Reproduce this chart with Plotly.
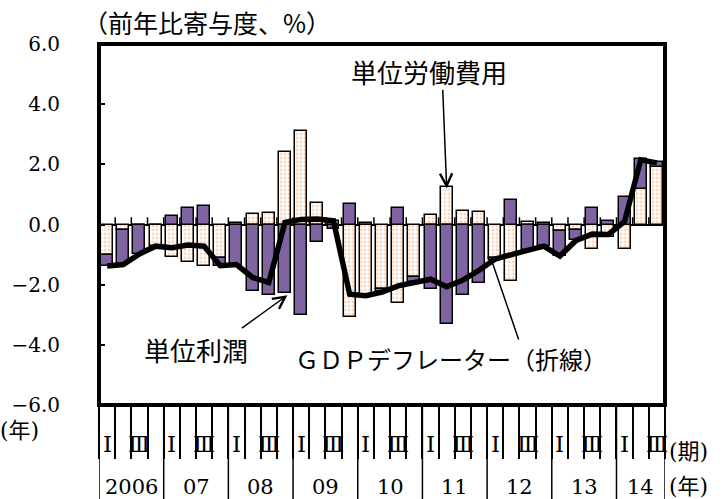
import plotly.graph_objects as go

# 2006 I - 2014 III, quarterly contributions (% y/y)
years = ["2006", "07", "08", "09", "10", "11", "12", "13", "14"]
quarter_marks = ["Ⅰ", "", "Ⅲ", ""]
y_ticks = [6, 4, 2, 0, -2, -4, -6]
y_tick_text = ["6.0", "4.0", "2.0", "0.0", "−2.0", "−4.0", "−6.0"]

unit_labor_cost = [-1.03, -0.17, 0.00, -0.70, -1.09, -1.25, -1.37, -1.12, 0.04, 0.36,
                   0.38, 2.41, 3.11, 0.72, 0.10, -3.06, -2.35, -2.15, -2.60, -1.75,
                   0.31, 1.25, 0.44, 0.42, -1.12, -1.87, 0.07, 0.04, -0.20, -0.18,
                   -0.81, -0.42, -0.82, 1.18, 1.90]
unit_profit = [-0.34, -1.13, -0.97, 0.00, 0.28, 0.56, 0.63, -0.25, -1.38, -2.20,
               -2.33, -2.28, -3.00, -0.59, -0.15, 0.67, 0.04, -0.10, 0.56, -0.15,
               -2.13, -3.32, -2.33, -1.93, -0.05, 0.80, -0.85, -0.70, -0.85, -0.35,
               0.55, 0.12, 0.91, 1.00, 0.17]
gdp_deflator = [-1.38, -1.33, -0.98, -0.72, -0.77, -0.68, -0.72, -1.37, -1.33, -1.76,
                -1.93, 0.07, 0.17, 0.18, 0.12, -2.32, -2.37, -2.25, -2.04, -1.95,
                -1.82, -2.07, -1.85, -1.52, -1.15, -1.00, -0.87, -0.72, -1.05, -0.53,
                -0.32, -0.33, 0.10, 2.15, 2.05]

n = len(gdp_deflator)
xs = list(range(n))

SERIF = '"DejaVu Serif", "Noto Sans CJK JP", serif'
CJK = '"Noto Sans CJK JP", sans-serif'
PURPLE = "#8064A2"
DOT = "#FBAF78"

fig = go.Figure()
fig.add_trace(go.Bar(
    x=xs, y=unit_labor_cost, width=0.74, name="単位労働費用",
    marker=dict(color="white", line=dict(color="black", width=1.5),
                pattern=dict(shape=".", fgcolor=DOT, bgcolor="white", size=4, solidity=0.4)),
))
fig.add_trace(go.Bar(
    x=xs, y=unit_profit, width=0.74, name="単位利潤",
    marker=dict(color=PURPLE, line=dict(color="black", width=1.5)),
))
fig.add_trace(go.Scatter(
    x=xs, y=gdp_deflator, mode="lines", name="GDPデフレーター",
    line=dict(color="black", width=5.5),
))

shapes = []
# frame
shapes.append(dict(type="rect", xref="paper", yref="paper", x0=0, x1=1, y0=0, y1=1,
                   line=dict(color="black", width=4), layer="above"))
# small ticks standing on the zero line at each quarter boundary
for i in range(n - 1):
    shapes.append(dict(type="line", xref="x", yref="y", x0=i + 0.5, x1=i + 0.5,
                       y0=0, y1=0.24, line=dict(color="black", width=1.5)))
# year separators in the category table
bounds = [4 * k - 0.5 for k in range(len(years))] + [n - 0.5]
for b in bounds:
    shapes.append(dict(type="line", xref="x", yref="paper", x0=b, x1=b,
                       y0=0, y1=-0.27, line=dict(color="black", width=1.5)))

annotations = []
for i in range(n):
    m = quarter_marks[i % 4]
    if m:
        annotations.append(dict(x=i, y=-0.108, xref="x", yref="paper", text=m,
                                xanchor="center", yanchor="middle", showarrow=False,
                                font=dict(family=SERIF, size=23, color="black")))
for k, yr in enumerate(years):
    last = min(4 * k + 3, n - 1)
    annotations.append(dict(x=(4 * k + last) / 2, y=-0.227, xref="x", yref="paper", text=yr,
                            xanchor="center", yanchor="middle", showarrow=False,
                            font=dict(family=SERIF, size=21, color="black")))

annotations += [
    dict(x=1.003, y=-0.13, xref="paper", yref="paper", text="(期)", xanchor="left",
         yanchor="middle", showarrow=False, font=dict(family=SERIF, size=22, color="black")),
    dict(x=1.003, y=-0.227, xref="paper", yref="paper", text="(年)", xanchor="left",
         yanchor="middle", showarrow=False, font=dict(family=SERIF, size=22, color="black")),
    dict(x=-0.1405, y=-0.071, xref="paper", yref="paper", text="(年)", xanchor="center",
         yanchor="middle", showarrow=False, font=dict(family=SERIF, size=22, color="black")),
    dict(x=0.191, y=1.061, xref="paper", yref="paper", text="（前年比寄与度、%）",
         xanchor="center", yanchor="middle", showarrow=False,
         font=dict(family=CJK, size=25, color="black")),
    # series labels
    dict(x=19.9, y=5.08, xref="x", yref="y", text="単位労働費用", xanchor="center",
         yanchor="middle", showarrow=False, font=dict(family=CJK, size=26, color="black")),
    dict(x=5.5, y=-4.15, xref="x", yref="y", text="単位利潤", xanchor="center",
         yanchor="middle", showarrow=False, font=dict(family=CJK, size=26, color="black")),
    dict(x=21.27, y=-4.45, xref="x", yref="y", text="ＧＤＰデフレーター（折線）",
         xanchor="center", yanchor="middle", showarrow=False,
         font=dict(family=CJK, size=24, color="black")),
    # leader lines
    dict(x=21, y=1.2, xref="x", yref="y", text="", showarrow=True, arrowhead=5,
         arrowsize=1.6, arrowwidth=1.5, arrowcolor="black", ax=-4, ay=-100),
    dict(x=11.15, y=-2.35, xref="x", yref="y", text="", showarrow=True, arrowhead=5,
         arrowsize=1.6, arrowwidth=1.5, arrowcolor="black", ax=-47, ay=34),
    dict(x=23.75, y=-1.15, xref="x", yref="y", text="", showarrow=True, arrowhead=0,
         arrowwidth=1.5, arrowcolor="black", ax=28, ay=82),
]

fig.update_layout(
    width=726, height=499,
    margin=dict(l=99, r=61, t=44, b=94),
    paper_bgcolor="white", plot_bgcolor="white",
    barmode="relative", bargap=0, showlegend=False,
    shapes=shapes, annotations=annotations,
    font=dict(family=SERIF, color="black"),
)
fig.update_xaxes(
    range=[-0.5, n - 0.5], showgrid=False, zeroline=False, showline=False,
    tickmode="array", tickvals=[i - 0.5 for i in range(n + 1)],
    ticks="outside", ticklen=53, tickwidth=1.5, tickcolor="black", showticklabels=False,
)
fig.update_yaxes(
    range=[-6, 6], showgrid=False, showline=False,
    zeroline=True, zerolinecolor="black", zerolinewidth=1.5,
    tickmode="array", tickvals=y_ticks, ticktext=y_tick_text,
    ticks="inside", ticklen=6, tickwidth=1.5, tickcolor="black",
    tickfont=dict(family=SERIF, size=20, color="black"), ticklabelstandoff=38,
)

fig.write_html("out.html")
